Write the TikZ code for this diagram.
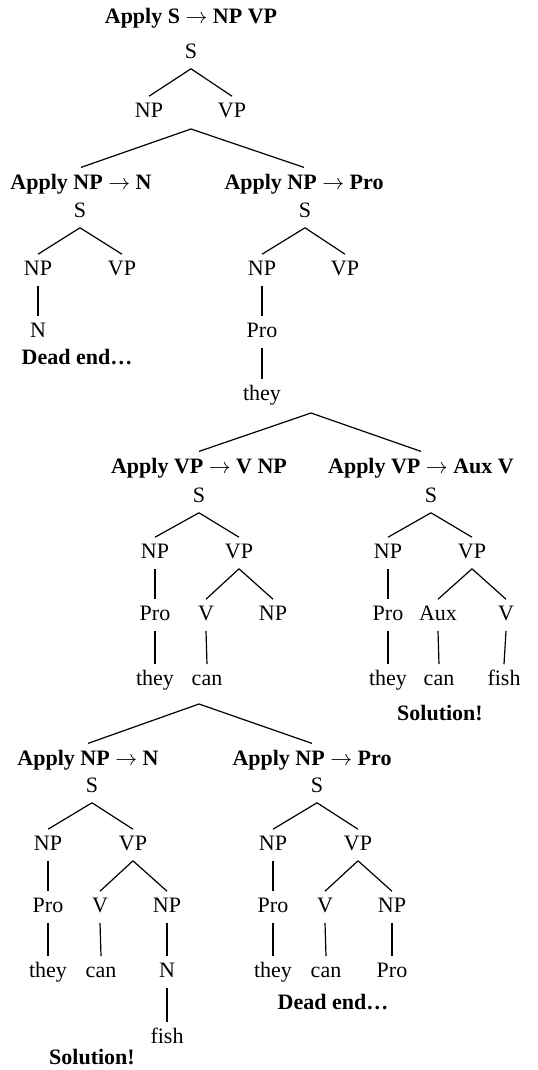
\documentclass[tikz,border=0pt]{standalone}
\usepackage{fontspec}
\setmainfont{Liberation Serif}

\begin{document}
\begin{tikzpicture}[x=.5pt,y=-.5pt,font=\fontsize{11}{13}\selectfont,line width=.6pt,
  cat/.style={inner sep=3pt,text height=1.6ex,text depth=.4ex},
  applyrule/.style={font=\fontsize{11}{13}\selectfont\bfseries,inner sep=3pt},
  verdict/.style={font=\fontsize{11}{13}\selectfont\bfseries,inner sep=1pt}]
\useasboundingbox (0,0) rectangle (537,1070);
\node[applyrule] (ra) at (191,18) {Apply S $\rightarrow$ NP VP};
\node[cat] (sa) at (191,53) {S};
\node[cat] (npa) at (149,112) {NP};
\node[cat] (vpa) at (232,112) {VP};
\draw (sa.south) -- (npa.north);
\draw (sa.south) -- (vpa.north);
\coordinate (ba) at (191,129);
\node[applyrule] (rbl) at (81,184) {Apply NP $\rightarrow$ N};
\node[cat] (sbl) at (80,212) {S};
\node[cat] (npbl) at (38,270) {NP};
\node[cat] (vpbl) at (122,270) {VP};
\node[cat] (nbl) at (38,332) {N};
\node[verdict] (xbl) at (77,357) {Dead end\dots};
\draw (sbl.south) -- (npbl.north);
\draw (sbl.south) -- (vpbl.north);
\draw (npbl.south) -- (nbl.north);
\node[applyrule] (rbr) at (304,184) {Apply NP $\rightarrow$ Pro};
\node[cat] (sbr) at (305,212) {S};
\node[cat] (npbr) at (262,270) {NP};
\node[cat] (vpbr) at (345,270) {VP};
\node[cat] (probr) at (262,332) {Pro};
\node[cat] (theybr) at (262,395) {they};
\draw (sbr.south) -- (npbr.north);
\draw (sbr.south) -- (vpbr.north);
\draw (npbr.south) -- (probr.north);
\draw (probr.south) -- (theybr.north);
\draw (ba) -- (rbl.north);
\draw (ba) -- (rbr.north);
\coordinate (bb) at (311,413);
\node[applyrule] (rcl) at (199,468) {Apply VP $\rightarrow$ V NP};
\node[cat] (scl) at (199,497) {S};
\node[cat] (npcl) at (155,553) {NP};
\node[cat] (vpcl) at (239,553) {VP};
\node[cat] (procl) at (155,615) {Pro};
\node[cat] (vcl) at (206,615) {V};
\node[cat] (np2cl) at (273,615) {NP};
\node[cat] (theycl) at (155,680) {they};
\node[cat] (cancl) at (207,680) {can};
\draw (scl.south) -- (npcl.north);
\draw (scl.south) -- (vpcl.north);
\draw (npcl.south) -- (procl.north);
\draw (vpcl.south) -- (vcl.north);
\draw (vpcl.south) -- (np2cl.north);
\draw (procl.south) -- (theycl.north);
\draw (vcl.south) -- (cancl.north);
\node[applyrule] (rcr) at (421,468) {Apply VP $\rightarrow$ Aux V};
\node[cat] (scr) at (431,497) {S};
\node[cat] (npcr) at (388,553) {NP};
\node[cat] (vpcr) at (472,553) {VP};
\node[cat] (procr) at (388,615) {Pro};
\node[cat] (auxcr) at (438,615) {Aux};
\node[cat] (vcr) at (506,615) {V};
\node[cat] (theycr) at (388,680) {they};
\node[cat] (cancr) at (439,680) {can};
\node[cat] (fishcr) at (504,680) {fish};
\node[verdict] (xcr) at (440,713) {Solution!};
\draw (scr.south) -- (npcr.north);
\draw (scr.south) -- (vpcr.north);
\draw (npcr.south) -- (procr.north);
\draw (vpcr.south) -- (auxcr.north);
\draw (vpcr.south) -- (vcr.north);
\draw (procr.south) -- (theycr.north);
\draw (auxcr.south) -- (cancr.north);
\draw (vcr.south) -- (fishcr.north);
\draw (bb) -- (rcl.north);
\draw (bb) -- (rcr.north);
\coordinate (bc) at (199,704);
\node[applyrule] (rdl) at (88,760) {Apply NP $\rightarrow$ N};
\node[cat] (sdl) at (92,787) {S};
\node[cat] (npdl) at (48,845) {NP};
\node[cat] (vpdl) at (133,845) {VP};
\node[cat] (prodl) at (48,907) {Pro};
\node[cat] (vdl) at (100,907) {V};
\node[cat] (np2dl) at (167,907) {NP};
\node[cat] (theydl) at (48,972) {they};
\node[cat] (candl) at (101,972) {can};
\node[cat] (ndl) at (167,972) {N};
\node[cat] (fishdl) at (167,1038) {fish};
\node[verdict] (xdl) at (92,1057) {Solution!};
\draw (sdl.south) -- (npdl.north);
\draw (sdl.south) -- (vpdl.north);
\draw (npdl.south) -- (prodl.north);
\draw (vpdl.south) -- (vdl.north);
\draw (vpdl.south) -- (np2dl.north);
\draw (prodl.south) -- (theydl.north);
\draw (vdl.south) -- (candl.north);
\draw (np2dl.south) -- (ndl.north);
\draw (ndl.south) -- (fishdl.north);
\node[applyrule] (rdr) at (312,760) {Apply NP $\rightarrow$ Pro};
\node[cat] (sdr) at (317,787) {S};
\node[cat] (npdr) at (273,845) {NP};
\node[cat] (vpdr) at (358,845) {VP};
\node[cat] (prodr) at (273,907) {Pro};
\node[cat] (vdr) at (325,907) {V};
\node[cat] (np2dr) at (392,907) {NP};
\node[cat] (theydr) at (273,972) {they};
\node[cat] (candr) at (326,972) {can};
\node[cat] (pro2dr) at (392,972) {Pro};
\node[verdict] (xdr) at (333,1002) {Dead end\dots};
\draw (sdr.south) -- (npdr.north);
\draw (sdr.south) -- (vpdr.north);
\draw (npdr.south) -- (prodr.north);
\draw (vpdr.south) -- (vdr.north);
\draw (vpdr.south) -- (np2dr.north);
\draw (prodr.south) -- (theydr.north);
\draw (vdr.south) -- (candr.north);
\draw (np2dr.south) -- (pro2dr.north);
\draw (bc) -- (rdl.north);
\draw (bc) -- (rdr.north);
\end{tikzpicture}
\end{document}
